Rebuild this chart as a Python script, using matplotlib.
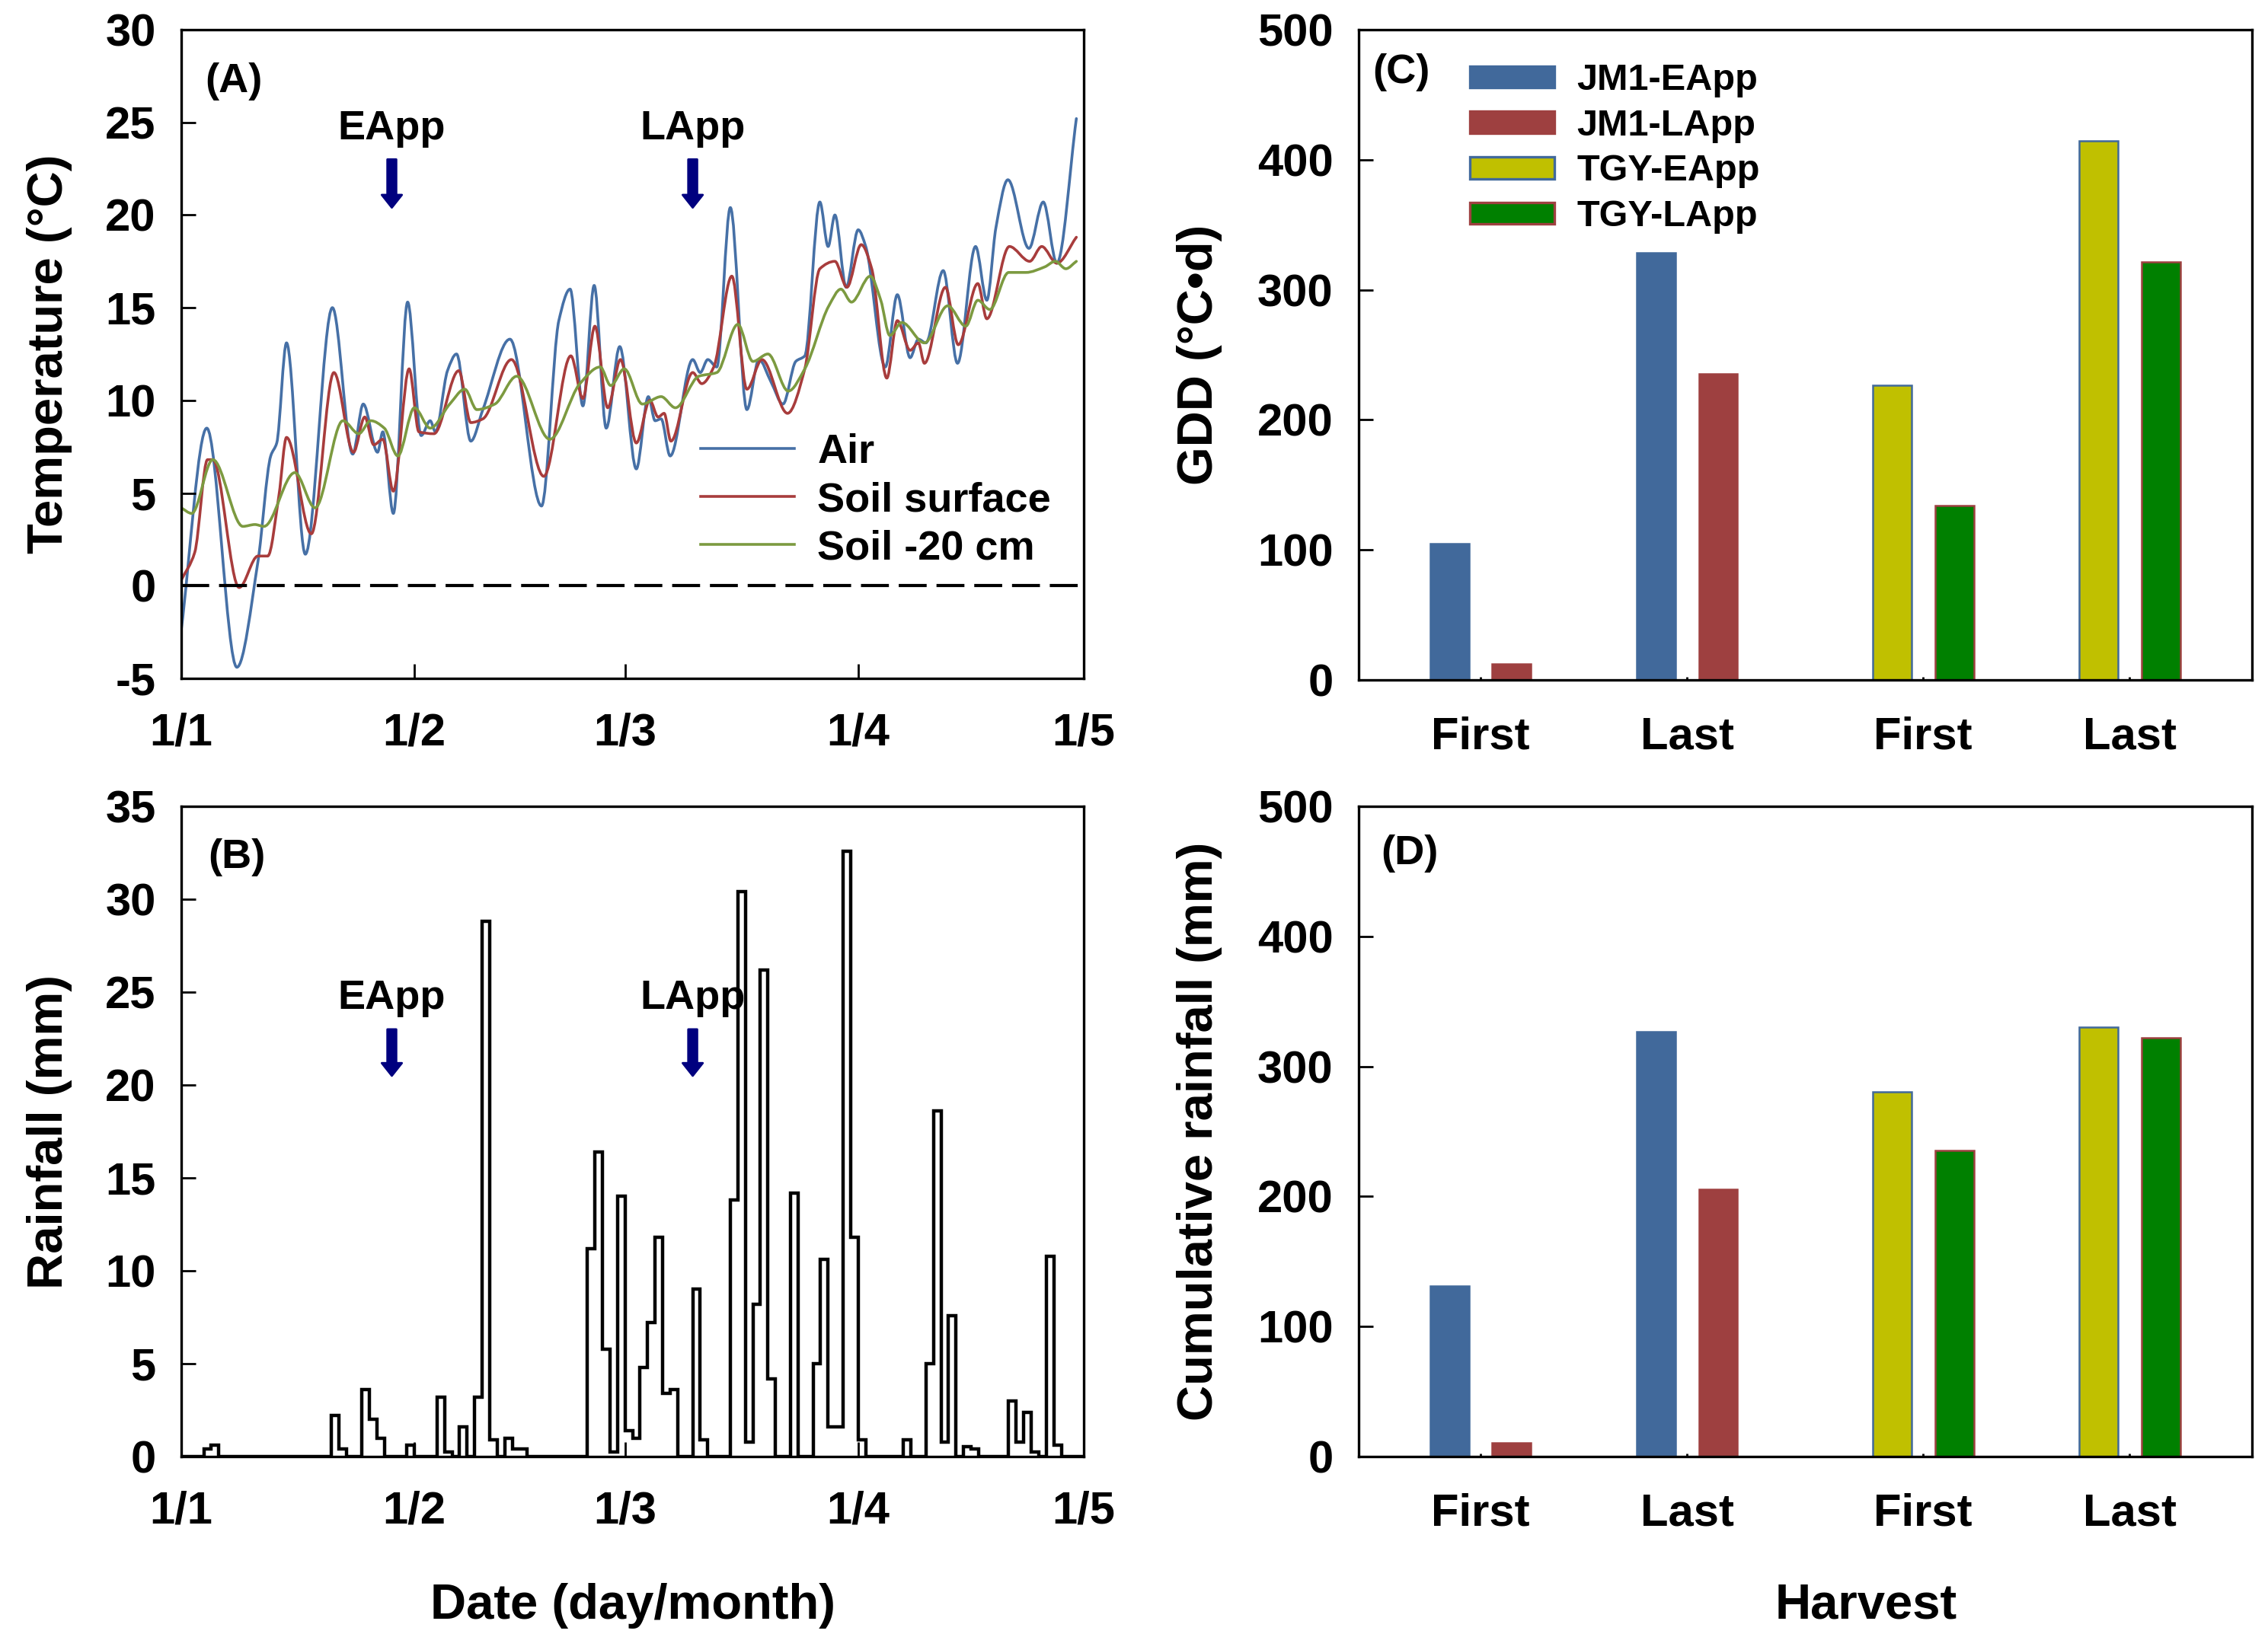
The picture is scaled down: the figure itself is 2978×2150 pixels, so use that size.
import numpy as np
import matplotlib
matplotlib.use("Agg")
import matplotlib.pyplot as plt
from matplotlib.patches import Patch, PathPatch
from matplotlib.lines import Line2D
from matplotlib.path import Path

plt.rcParams['font.family'] = ['Liberation Sans', 'DejaVu Sans']
plt.rcParams['font.weight'] = 'bold'
plt.rcParams['axes.labelweight'] = 'bold'
plt.rcParams['axes.unicode_minus'] = False

# ---------------- data ----------------
date_ticks = [0, 31, 59, 90, 120]
date_labels = ['1/1', '1/2', '1/3', '1/4', '1/5']

air_day = [0, 3.4, 7.4, 10.2, 11.9, 12.7, 14, 16.5, 20.1, 22.8, 24.2, 26.1, 26.8, 28.2, 30.1,
           31.9, 33.1, 33.8, 35.4, 36.6, 38.5, 40.1, 43.7, 47.9, 50.2, 51.7, 53.4, 54.9, 56.5,
           58.3, 60.5, 62.1, 63, 63.8, 65, 68, 69, 70, 71.2, 73, 75.2, 76.8, 78.4, 80, 81.7,
           82.9, 84.9, 86, 86.9, 88.4, 90, 91, 93.6, 95.2, 96.9, 98, 99, 101.3, 103.2, 105.6,
           107.1, 108.3, 109.9, 112.7, 114.6, 116.4, 119]
air_temp = [-2.4, 8.5, -4.4, 1.3, 7, 7.7, 13.1, 1.7, 15, 7.1, 9.8, 7.2, 8.3, 3.9, 15.3,
            8.1, 8.9, 8.3, 11.6, 12.5, 7.8, 9.5, 13.3, 4.3, 14.3, 16, 9.7, 16.2, 8.5,
            12.9, 6.3, 10.2, 8.9, 9, 7, 12.2, 11.5, 12.2, 11.8, 20.4, 9.5, 12.2, 11, 9.8, 12.1,
            12.4, 20.7, 18.3, 20, 16.1, 19.2, 18.3, 11.8, 15.7, 12.3, 13.3, 13.1, 17, 12, 18.3,
            15.4, 19.3, 21.9, 18.2, 20.7, 17.4, 25.2]

surf_day = [0, 1.8, 3.5, 4.2, 7.7, 10.2, 11.5, 13, 14, 17.3, 20.3, 22.9, 24.4, 25.6, 26.8,
            28.2, 30.3, 31.6, 33.6, 36.9, 38.5, 40.1, 43.9, 48.2, 51.8, 53.4, 55, 56.7, 58.4,
            60.5, 62.3, 63.4, 64.2, 65.1, 68, 69.2, 70.8, 73.2, 75.2, 77.2, 80.6, 82.9, 84.9,
            86.9, 88.5, 90.4, 91.8, 93.8, 95.2, 96.9, 98, 98.8, 101.6, 103.3, 105.9, 107.1,
            110.1, 112.8, 114.4, 116.4, 119]
surf_temp = [0.3, 1.8, 6.8, 6.8, -0.1, 1.6, 1.6, 4.9, 8, 2.8, 11.5, 7.2, 9.1, 7.6, 7.9,
             5.1, 11.7, 8.3, 8.2, 11.6, 8.8, 9, 12.2, 5.9, 12.4, 10.1, 14, 9.6, 12.2,
             7.7, 10, 9.1, 9.3, 7.8, 11.5, 10.9, 11.8, 16.7, 10.6, 12.2, 9.3, 11.7, 17.1,
             17.5, 16.1, 18.4, 17.1, 11.2, 14.3, 12.7, 13.1, 12, 16.1, 13, 16.3, 14.4,
             18.3, 17.5, 18.3, 17.4, 18.8]

deep_day = [0, 1.4, 4.2, 8.2, 9.8, 11, 15.1, 17.8, 21.5, 23.6, 25.2, 27, 28.8, 31, 33.1,
            35.7, 37.7, 39.3, 41.7, 44.6, 49, 53, 55.7, 57.1, 58.9, 61.3, 63.8, 65.7, 68.8,
            71.2, 74, 76, 78, 80.7, 82.9, 86.1, 87.7, 89.1, 91.6, 93, 94.2, 95.8, 98.8, 101.9,
            104.3, 105.9, 107.5, 110, 112.3, 114.8, 116.2, 117.6, 119]
deep_temp = [4.2, 3.9, 6.8, 3.2, 3.3, 3.2, 6.1, 4.2, 8.9, 8.2, 8.9, 8.5, 7, 9.6, 8.5,
             9.8, 10.6, 9.5, 9.8, 11.3, 7.9, 10.9, 11.8, 10.8, 11.7, 9.8, 10.2, 9.6, 11.3,
             11.5, 14.1, 12.1, 12.5, 10.5, 11.7, 15.1, 16, 15.3, 16.7, 15.4, 13.5, 14.2, 13.1, 15.1,
             14, 15.4, 14.9, 16.9, 16.9, 17.2, 17.5, 17.1, 17.5]

# daily rainfall (mm), Jan 1 .. Apr 30
rain = [0, 0, 0, 0.4, 0.6, 0, 0, 0, 0, 0,
        0, 0, 0, 0, 0, 0, 0, 0, 0, 0,
        2.2, 0.4, 0, 0, 3.6, 2.0, 1.0, 0, 0, 0,
        0.6, 0, 0, 0, 3.2, 0.25, 0, 1.6, 0, 3.2,
        28.8, 0.9, 0, 1.0, 0.4, 0.4, 0, 0, 0, 0,
        0, 0, 0, 0, 11.2, 16.4, 5.8, 0.25, 14.0, 1.4,
        1.0, 4.8, 7.2, 11.8, 3.4, 3.6, 0, 0, 9.0, 0.9,
        0, 0, 0, 13.8, 30.4, 0.8, 8.2, 26.2, 4.2, 0,
        0, 14.2, 0, 0, 5.0, 10.6, 1.6, 1.6, 32.6, 11.8,
        0.9, 0, 0, 0, 0, 0, 0.9, 0, 0, 5.0,
        18.6, 0.8, 7.6, 0, 0.55, 0.4, 0, 0, 0, 0,
        3.0, 0.8, 2.4, 0.25, 0, 10.8, 0.6, 0, 0, 0]

app_days = [28.0, 68.0]
app_labels = ['EApp', 'LApp']

harvest_labels = ['First', 'Last', 'First', 'Last']
series_names = ['JM1-EApp', 'JM1-LApp', 'TGY-EApp', 'TGY-LApp']
gdd_jm1_e = [105, 328.5]
gdd_jm1_l = [12, 235.4]
gdd_tgy_e = [226.5, 414.4]
gdd_tgy_l = [133.8, 321.4]
crain_jm1_e = [131.2, 326.6]
crain_jm1_l = [10.5, 205.5]
crain_tgy_e = [280.2, 330.4]
crain_tgy_l = [235.4, 322.0]

# ---------------- style ----------------
C_AIR = '#4670A6'
C_SURF = '#A83C3C'
C_DEEP = '#7C9A40'
C_BLUE = '#41699B'
C_RED = '#9E4040'
C_YEL = '#C0C000'
C_GRN = '#008000'
C_ARROW = '#00007F'

TICK_FS = 21.5
LAB_FS = 23.5
ANN_FS = 19.5
LINE_W = 1.3


def smooth_path(x, y):
    """Smooth (monotone cubic Bezier) path through the read points."""
    x = np.asarray(x, float)
    y = np.asarray(y, float)
    h = np.diff(x)
    d = np.diff(y) / h
    n = len(x)
    m = np.zeros(n)
    for i in range(1, n - 1):
        if d[i - 1] * d[i] > 0:
            w1 = 2 * h[i] + h[i - 1]
            w2 = h[i] + 2 * h[i - 1]
            m[i] = (w1 + w2) / (w1 / d[i - 1] + w2 / d[i])
    m[0] = d[0]
    m[-1] = d[-1]
    verts = [(x[0], y[0])]
    codes = [Path.MOVETO]
    for i in range(n - 1):
        verts += [(x[i] + h[i] / 3, y[i] + m[i] * h[i] / 3),
                  (x[i + 1] - h[i] / 3, y[i + 1] - m[i + 1] * h[i] / 3),
                  (x[i + 1], y[i + 1])]
        codes += [Path.CURVE4] * 3
    return Path(verts, codes)


fig = plt.figure(figsize=(14.89, 10.75), dpi=200)
axA = fig.add_axes([0.0799, 0.5856, 0.3980, 0.3963])
axB = fig.add_axes([0.0799, 0.1102, 0.3980, 0.3972])
axC = fig.add_axes([0.5991, 0.5847, 0.3939, 0.3972])
axD = fig.add_axes([0.5991, 0.1102, 0.3939, 0.3972])

for ax in (axA, axB, axC, axD):
    for s in ax.spines.values():
        s.set_linewidth(1.2)
    ax.tick_params(direction='in', length=7, width=1.0, labelsize=TICK_FS,
                   top=False, right=False)

# ---- Panel A ----
for xs, ys, col in ((air_day, air_temp, C_AIR), (surf_day, surf_temp, C_SURF),
                    (deep_day, deep_temp, C_DEEP)):
    axA.add_patch(PathPatch(smooth_path(xs, ys), facecolor='none', edgecolor=col,
                            lw=LINE_W, capstyle='round', joinstyle='round'))
axA.axhline(0, color='black', lw=1.5, dashes=(8.8, 3.1))
axA.set_xlim(0, 120)
axA.set_ylim(-5, 30)
axA.set_yticks(np.arange(-5, 31, 5))
axA.set_ylabel('Temperature (\u00b0C)', fontsize=LAB_FS, fontweight='bold')
axA.yaxis.set_label_coords(-0.121, 0.5)
axA.text(0.058, 0.92, '(A)', transform=axA.transAxes, fontsize=ANN_FS,
         fontweight='bold', ha='center', va='center')
arrow_style = 'simple,head_width=0.95,head_length=0.6,tail_width=0.42'
for d, lab in zip(app_days, app_labels):
    axA.text(d, 24.1, lab, fontsize=ANN_FS, fontweight='bold', ha='center', va='baseline')
    axA.annotate('', xy=(d, 20.4), xytext=(d, 23.0),
                 arrowprops=dict(arrowstyle=arrow_style, color=C_ARROW,
                                 shrinkA=0, shrinkB=0, mutation_scale=10))
line_handles = [Line2D([], [], color=c, lw=LINE_W) for c in (C_AIR, C_SURF, C_DEEP)]
axA.legend(line_handles, ['Air', 'Soil surface', 'Soil -20 cm'],
           loc='center left', bbox_to_anchor=(0.5755, 0.2745), frameon=False,
           handlelength=2.27, handletextpad=0.56, labelspacing=0.24,
           borderpad=0, borderaxespad=0, prop={'weight': 'bold', 'size': ANN_FS})

# ---- Panel B ----
axB.stairs(rain, np.arange(len(rain) + 1), color='black', lw=1.6, baseline=0)
axB.set_xlim(0, 120)
axB.set_ylim(0, 35)
axB.set_yticks(np.arange(0, 36, 5))
axB.set_ylabel('Rainfall (mm)', fontsize=LAB_FS, fontweight='bold')
axB.yaxis.set_label_coords(-0.121, 0.5)
axB.set_xlabel('Date (day/month)', fontsize=LAB_FS, fontweight='bold')
axB.xaxis.set_label_coords(0.5, -0.194)
axB.text(0.062, 0.922, '(B)', transform=axB.transAxes, fontsize=ANN_FS,
         fontweight='bold', ha='center', va='center')
for d, lab in zip(app_days, app_labels):
    axB.text(d, 24.1, lab, fontsize=ANN_FS, fontweight='bold', ha='center', va='baseline')
    axB.annotate('', xy=(d, 20.5), xytext=(d, 23.0),
                 arrowprops=dict(arrowstyle=arrow_style, color=C_ARROW,
                                 shrinkA=0, shrinkB=0, mutation_scale=10))

for ax in (axA, axB):
    ax.set_xticks(date_ticks, date_labels)
    ax.tick_params(axis='x', pad=16)
    ax.tick_params(axis='y', pad=12)

# ---- Panels C, D ----
group_pos = np.array([1.0, 2.0, 3.144, 4.144])
off = 0.151
bw = 0.188
faces = [C_BLUE, C_RED, C_YEL, C_GRN]
edges = [C_BLUE, C_RED, C_BLUE, C_RED]


def bars(ax, jm1e, jm1l, tgye, tgyl):
    ax.bar(group_pos[:2] - off, jm1e, bw, color=C_BLUE, edgecolor=C_BLUE, lw=0.9)
    ax.bar(group_pos[:2] + off, jm1l, bw, color=C_RED, edgecolor=C_RED, lw=0.9)
    ax.bar(group_pos[2:] - off, tgye, bw, color=C_YEL, edgecolor=C_BLUE, lw=0.9)
    ax.bar(group_pos[2:] + off, tgyl, bw, color=C_GRN, edgecolor=C_RED, lw=0.9)
    ax.set_xlim(0.41, 4.738)
    ax.set_ylim(0, 500)
    ax.set_yticks(np.arange(0, 501, 100))
    ax.set_xticks(group_pos, harvest_labels)
    ax.tick_params(axis='x', length=1.5, pad=17)
    ax.tick_params(axis='y', pad=12)


bars(axC, gdd_jm1_e, gdd_jm1_l, gdd_tgy_e, gdd_tgy_l)
bars(axD, crain_jm1_e, crain_jm1_l, crain_tgy_e, crain_tgy_l)

axC.set_ylabel('GDD (\u00b0C\u2022d)', fontsize=LAB_FS, fontweight='bold')
axC.yaxis.set_label_coords(-0.1526, 0.5)
axD.set_ylabel('Cumulative rainfall (mm)', fontsize=LAB_FS, fontweight='bold')
axD.yaxis.set_label_coords(-0.1526, 0.5)
axD.set_xlabel('Harvest', fontsize=LAB_FS, fontweight='bold')
axD.xaxis.set_label_coords(0.568, -0.194)

axC.text(0.048, 0.934, '(C)', transform=axC.transAxes, fontsize=ANN_FS,
         fontweight='bold', ha='center', va='center')
axD.text(0.057, 0.928, '(D)', transform=axD.transAxes, fontsize=ANN_FS,
         fontweight='bold', ha='center', va='center')

handles = [Patch(facecolor=f, edgecolor=e, lw=1.2) for f, e in zip(faces, edges)]
axC.legend(handles, series_names, loc='center left', bbox_to_anchor=(0.1245, 0.817),
           frameon=False, handlelength=2.28, handleheight=0.53, handletextpad=0.6,
           labelspacing=0.30, borderpad=0, borderaxespad=0,
           prop={'weight': 'bold', 'size': 17.5})

for ax in (axA, axB, axC, axD):
    for lab in ax.get_xticklabels() + ax.get_yticklabels():
        lab.set_fontweight('bold')

fig.savefig('out.png', dpi=200)
